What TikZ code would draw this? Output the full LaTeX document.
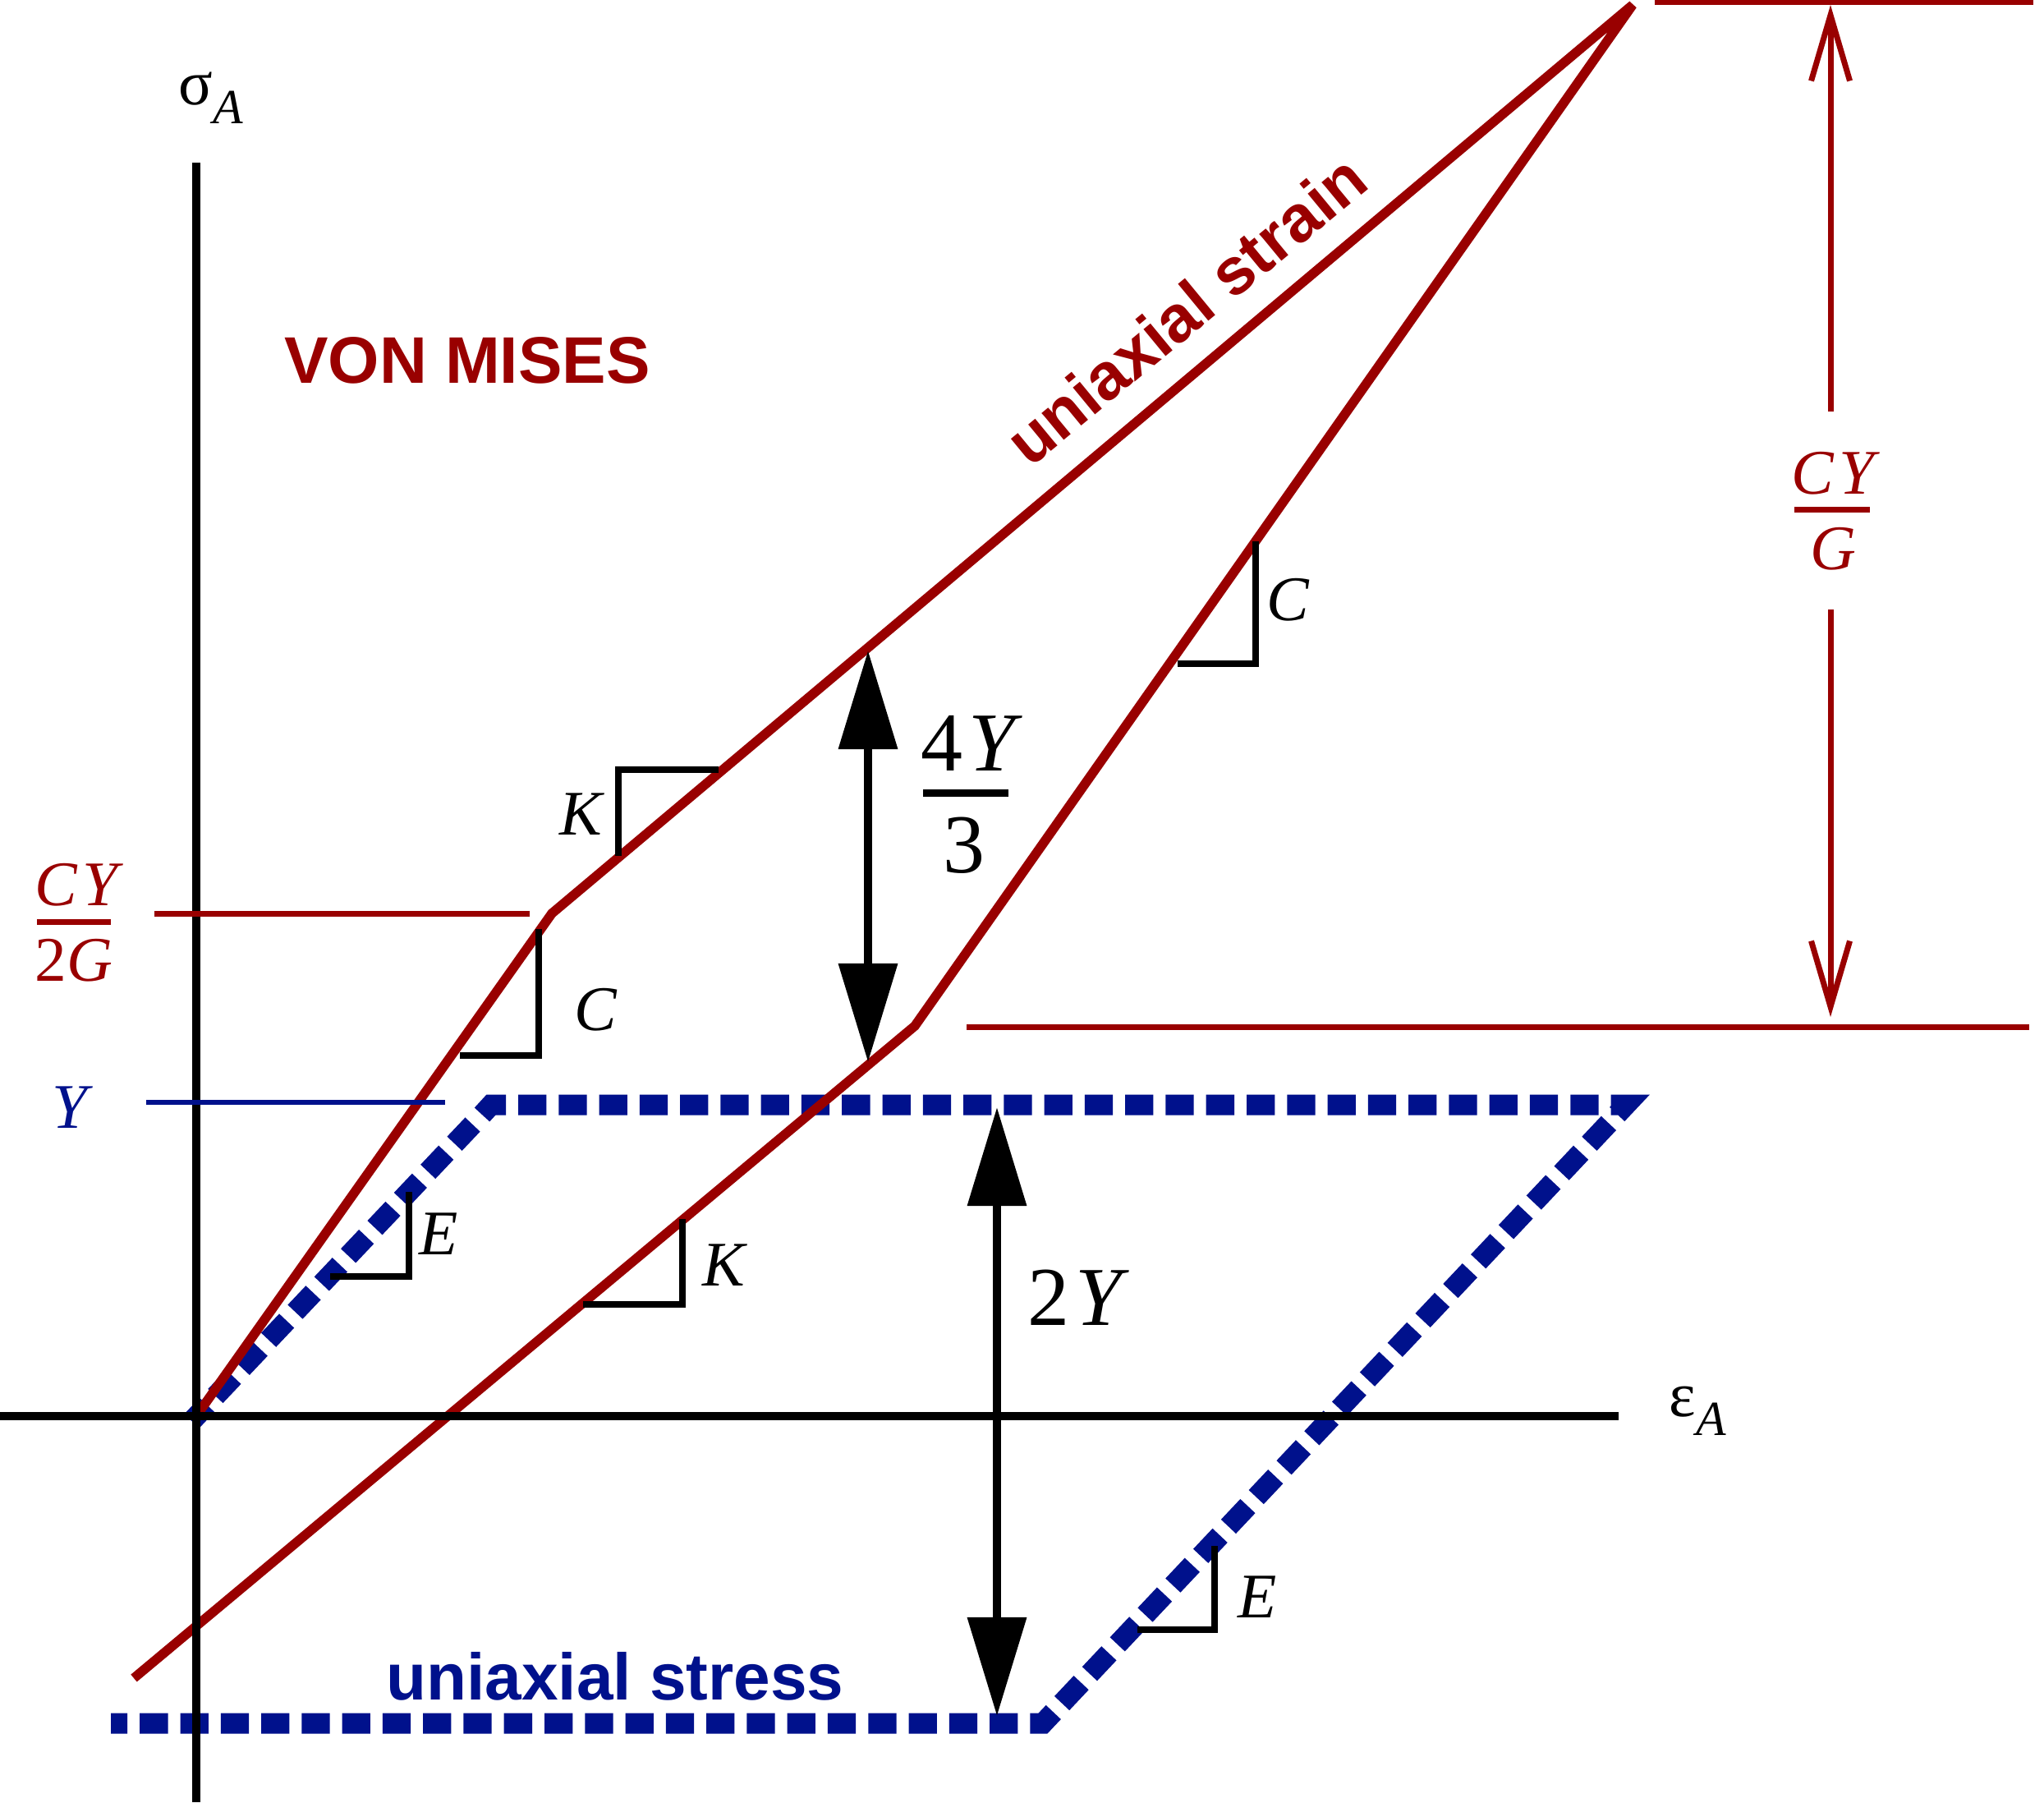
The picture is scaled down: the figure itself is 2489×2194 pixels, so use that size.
\documentclass[tikz,border=0pt]{standalone}
\usepackage{fontspec}
\setmainfont{Liberation Serif}
\newfontfamily\sanslabel{Liberation Sans}
\usetikzlibrary{arrows.meta}
\definecolor{curvered}{HTML}{990000}
\definecolor{curveblue}{HTML}{00118C}
\newcommand{\fsize}[1]{\fontsize{#1}{#1}\selectfont}
\newcommand{\subA}{\raisebox{-0.23cm}{\fsize{17}\itshape A}}
\begin{document}
\begin{tikzpicture}[x=0.01cm,y=-0.01cm,line join=miter,
	redcurve/.style={draw=curvered,line width=0.115cm,line join=bevel},
	bluecurve/.style={draw=curveblue,line width=0.25cm,dash pattern=on 0.3425cm off 0.15cm},
	redline/.style={draw=curvered,line width=0.07cm},
	blueline/.style={draw=curveblue,line width=0.065cm},
	axis/.style={draw=black,line width=0.095cm},
	slope/.style={draw=black,line width=0.08cm},
	bigarrow/.style={draw=black,line width=0.1cm,{Triangle[length=1.2cm,width=0.7cm]}-{Triangle[length=1.2cm,width=0.7cm]}},
	lbl/.style={anchor=base,inner sep=0pt,font=\fsize{22}\itshape},
	biglbl/.style={anchor=base,inner sep=0pt,font=\fsize{29}},
	sanslbl/.style={anchor=base,inner sep=0pt,text=curvered,font=\sanslabel\bfseries\fsize{22.8}}]
	\useasboundingbox (0,0) rectangle (2489,2194);
	% corners of the two curves
	\coordinate (O) at (239,1724);
	\coordinate (strainA) at (672,1112);
	\coordinate (strainB) at (1988,6);
	\coordinate (strainC) at (1114,1249);
	\coordinate (strainD) at (163,2043);
	\coordinate (stressO) at (233.5,1730);
	\coordinate (stressP) at (577,1367.5);
	\coordinate (stressQ) at (587,1357);
	\coordinate (stressA) at (598,1345);
	\coordinate (stressB) at (1980,1345);
	\coordinate (stressC) at (1270,2098);
	\coordinate (stressD) at (135,2098);
	% curves
	\draw[bluecurve,dash pattern=on 0.32cm off 0.15cm,dash phase=0.05cm] (stressO)--(stressP);
	\draw[bluecurve] (stressQ)--(stressA)--(stressB)--(stressC)--(stressD);
	\draw[redcurve] (O)--(strainA)--(strainB)--(strainC)--(strainD);
	% axes
	\draw[axis] (0,1724)--(1971,1724);
	\draw[axis] (239,198)--(239,2194);
	\node[anchor=base west,inner sep=0pt,font=\fsize{22}] (sigmaA) at (217,127) {σ\subA};
	\node[anchor=base west,inner sep=0pt,font=\fsize{22}] (epsA) at (2032,1724) {ε\subA};
	% levels
	\draw[redline] (188,1112)--(645,1112);
	\draw[blueline] (178,1342)--(542,1342);
	\draw[redline] (2015,3)--(2476,3);
	\draw[redline] (1177,1250)--(2471,1250);
	\node[lbl,text=curvered] (cyA) at (93,1102) {C\hspace{0.08em}Y};
	\draw[redline] (45,1122)--(135,1122);
	\node[lbl,text=curvered] (gA) at (90,1194) {\upshape 2\itshape G};
	\node[lbl,text=curveblue] (yA) at (85,1373) {Y};
	\node[lbl,text=curvered] (cyB) at (2232,601) {C\hspace{0.08em}Y};
	\draw[redline] (2185,620)--(2277,620);
	\node[lbl,text=curvered] (gB) at (2232,693) {G};
	% dimension arrow broken by its label
	\draw[redline,{Straight Barb[length=0.8cm,width=0.47cm]}-] (2229,6)--(2229,501);
	\draw[redline,-{Straight Barb[length=0.8cm,width=0.47cm]}] (2229,742)--(2229,1238);
	% double arrows
	\draw[bigarrow] (1057,792)--(1057,1293);
	\draw[bigarrow] (1214,1348)--(1214,2089);
	\node[biglbl] (fourY) at (1183,938) {4\hspace{0.07em}\textit{Y}};
	\draw[draw=black,line width=0.09cm] (1124,965)--(1228,965);
	\node[biglbl] (three) at (1174,1062) {3};
	\node[biglbl] (twoY) at (1313,1613) {2\hspace{0.07em}\textit{Y}};
	% slope triangles
	\draw[slope] (875,937)-|(753,1042);
	\draw[slope] (656,1131)|-(560,1285);
	\draw[slope] (498,1451)|-(402,1554);
	\draw[slope] (831,1484)|-(710,1588);
	\draw[slope] (1479,1882)|-(1385,1984);
	\draw[slope] (1529,659)|-(1434,808);
	\node[lbl] (kA) at (707,1016) {K};
	\node[lbl] (cA) at (725,1254) {C};
	\node[lbl] (eA) at (534,1527) {E};
	\node[lbl] (kB) at (881,1565) {K};
	\node[lbl] (eB) at (1531,1969) {E};
	\node[lbl] (cB) at (1568,755) {C};
	% titles
	\node[sanslbl] (title) at (569,466) {VON MISES};
	\node[sanslbl,rotate=39.5] (strain) at (1462,399) {uniaxial strain};
	\node[sanslbl,text=curveblue] (stress) at (749,2069) {uniaxial stress};
\end{tikzpicture}
\end{document}
